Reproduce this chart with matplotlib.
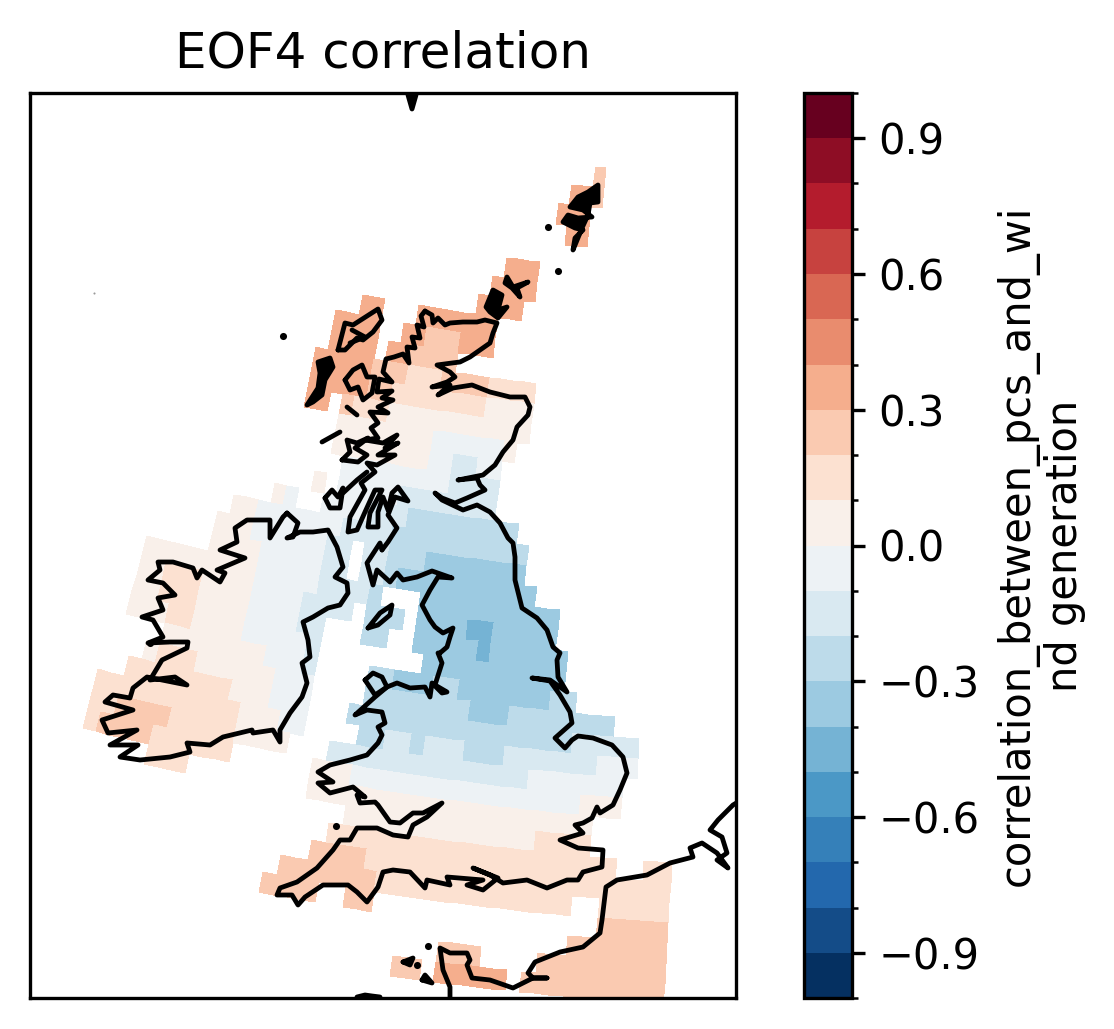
import numpy as np
import matplotlib
matplotlib.use("Agg")
import matplotlib.pyplot as plt
from matplotlib.colors import BoundaryNorm

# correlation classes used on the map
P1, P2, P3, P4 = 0.05, 0.15, 0.25, 0.35
N1, N2, N3, N4, N5 = -0.05, -0.15, -0.25, -0.35, -0.45

levels = np.round(np.arange(-1, 1.01, 0.1), 1)
cbar_ticks = [-0.9, -0.6, -0.3, 0.0, 0.3, 0.6, 0.9]
title = "EOF4 correlation"
cbar_label = "correlation_between_pcs_and_wi\nnd generation"

# one entry per grid row: (first column, last column, value)
cell_runs = [
    [(34, 34, P3)],
    [(32, 33, P4), (34, 34, P3)],
    [(31, 33, P4)],
    [(32, 33, P4)],
    [],
    [(27, 29, P4)],
    [(26, 29, P4)],
    [(25, 28, P4)],
    [(15, 16, P4), (20, 26, P4)],
    [(13, 16, P4), (19, 20, P4), (21, 23, P3), (24, 26, P4)],
    [(13, 16, P4), (18, 19, P4), (20, 23, P3)],
    [(12, 16, P4), (17, 19, P3), (20, 22, P2), (23, 26, P3), (27, 30, P2)],
    [(12, 16, P4), (17, 18, P3), (19, 26, P2), (27, 30, P1)],
    [(12, 13, P4), (15, 15, P3), (16, 18, P2), (19, 30, P1)],
    [(15, 22, P1), (23, 28, N1), (29, 29, P1)],
    [(15, 22, P1), (23, 24, N1), (25, 26, N2), (27, 28, N1)],
    [(16, 24, N1), (25, 28, N2)],
    [(14, 14, P1), (16, 20, N1), (21, 28, N2)],
    [(11, 11, P1), (12, 12, N1), (15, 18, N1), (19, 21, N2), (22, 30, N3)],
    [(8, 9, P1), (10, 16, N1), (17, 20, N2), (21, 31, N3)],
    [(7, 9, P1), (10, 15, N1), (16, 17, N2), (19, 20, N2), (21, 23, N3), (24, 31, N4)],
    [(7, 10, P1), (11, 15, N1), (16, 17, N2), (19, 20, N2), (21, 21, N3), (22, 32, N4)],
    [(2, 10, P1), (11, 15, N1), (16, 19, N2), (20, 20, N3), (24, 34, N4)],
    [(2, 3, P1), (4, 6, P2), (7, 10, P1), (11, 14, N1), (15, 18, N2), (20, 22, N3),
     (24, 27, N4), (28, 29, N5), (30, 34, N4)],
    [(2, 3, P1), (4, 6, P2), (7, 10, P1), (11, 14, N1), (15, 16, N2), (20, 21, N3),
     (24, 28, N4), (29, 29, N5), (30, 35, N4)],
    [(2, 4, P1), (5, 6, P2), (7, 10, P1), (11, 15, N1), (16, 16, N2), (25, 35, N4)],
    [(5, 12, P1), (13, 15, N1), (16, 16, N2), (21, 22, N3), (23, 25, N4), (26, 27, N3),
     (28, 34, N4), (35, 36, N3)],
    [(4, 4, P1), (5, 7, P2), (8, 13, P1), (14, 16, N1), (21, 28, N3), (29, 31, N4), (32, 39, N3)],
    [(3, 10, P2), (11, 13, P1), (14, 16, N1), (20, 36, N3), (37, 41, N2)],
    [(1, 11, P2), (12, 14, P1), (15, 16, N1), (21, 22, N3), (23, 24, N2), (25, 25, N3),
     (26, 28, N2), (29, 31, N3), (32, 38, N2), (39, 41, N1)],
    [(1, 2, P2), (3, 6, P3), (7, 11, P2), (12, 15, P1), (19, 33, N2), (34, 40, N1)],
    [(1, 1, P2), (2, 5, P3), (6, 11, P2), (18, 20, P1), (21, 37, N1), (38, 40, P1)],
    [(6, 8, P2), (18, 38, P1)],
    [(21, 34, P1), (35, 38, P2)],
    [(20, 40, P2), (43, 44, P2)],
    [(19, 22, P3), (23, 44, P2)],
    [(17, 23, P3), (24, 37, P2), (40, 44, P2)],
    [(16, 19, P3), (22, 23, P3), (40, 44, P3)],
    [(38, 44, P3)],
    [(29, 31, P3), (36, 44, P3)],
    [(26, 27, P3), (29, 33, P4), (35, 44, P3)],
]

# coast outlines in map coordinates
britain_east = [(425,311),(432,315),(433,323),(438,318),(445,325),(450,323),(463,322),(477,322),(485,320),(497,323),
    (493,333),(490,343),(480,350),(470,357),(460,362),(452,363),(437,365),(450,372),(455,377),(447,382),(432,387),
    (450,385),(438,395),(453,388),(472,385),(490,392),(510,397),(525,397),(530,407),(528,415),(517,427),(513,440),
    (503,452),(495,465),(483,475),(458,480),(477,478),(480,485),(485,490),(467,498),(455,503),(442,498),(435,493),
    (442,500),(463,510),(477,505),(490,512),(500,523),(508,538),(513,543),(515,557),(515,580),(522,608),(537,618),
    (547,630),(553,647),(560,653),(557,660),(558,677),(567,692),(550,680),(532,678),(550,681),(560,695),(570,712),
    (572,723),(555,738),(565,748),(572,740),(578,736),(593,738),(612,745),(623,757),(627,773),(620,790),(613,805),
    (600,813),(597,807),(592,818),(583,823),(575,825),(583,833),(560,840),(578,848),(603,850),(602,867),(583,872),
    (578,880),(567,880),(547,888),(527,880),(503,883),(490,875),(473,868),(498,878),(483,890),(467,885),(483,880),
    (447,877),(450,885),(427,880),(425,888),(410,872),(393,870),(383,872),(378,887),(367,902),(357,892),(348,885),
    (323,885),(305,897),(298,905),(292,895),(277,895),(280,888),(297,882),(317,868),(333,850),(340,840),(350,840),
    (357,828),(377,828),(393,835),(408,837),(413,825),(427,817),(442,803),(423,813),(413,813),(400,823),(390,822),
    (378,805),(375,802),(360,803),(357,795),(365,797),(353,787),(330,793),(318,783),(333,782),(318,772),(330,765),
    (350,760),(367,755),(378,743),(382,735),(378,727),(385,723),(382,712),(367,710),(355,715),(375,697),(387,687),
    (397,683),(410,688),(425,687),(430,697),(432,683),(442,693),(447,692),(435,685),(442,663),(438,653),(440,653),
    (447,647),(450,637),(453,628),(443,633),(435,627),(430,620),(422,605),(430,590),(438,577),(452,578),(432,571),
    (417,577),(403,580),(397,573),(390,582),(377,570),(373,585),(367,563),(380,543),(382,550)]
# west Scotland, north to south
scotland_west = [(425,311),(421,316),(424,327),(417,325),(420,338),(412,337),(415,348),(407,347),(409,363),(403,354),
    (394,357),(386,359),(383,372),(392,382),(379,379),(377,392),(392,391),(382,398),(393,400),(378,407),(388,413),
    (370,412),(378,423),(371,428),(378,438),(365,440),(383,443),(397,435),(385,448),(398,443),(378,455),(395,455),
    (377,465),(367,463),(375,472),(361,483),(365,490),(350,517),(348,532),(357,530),(365,512),(375,490),(382,490),
    (370,513),(368,527),(378,527),(378,512),(383,497),(388,510),(392,493),(398,487),(408,501),(395,497),(388,515),
    (397,528),(388,542),(382,550)]
ireland = [(287,513),(298,523),(293,537),(287,538),(300,532),(313,532),(328,530),(337,547),(343,567),(335,577),
    (347,583),(348,593),(340,605),(328,608),(313,617),(303,622),(308,640),(310,657),(302,663),(307,683),(302,697),
    (290,713),(280,730),(280,742),(273,730),(253,733),(252,730),(223,737),(210,745),(187,743),(190,752),(170,757),
    (140,760),(120,757),(138,745),(110,745),(137,730),(108,733),(102,720),(133,710),(105,702),(113,695),(130,698),
    (133,688),(147,677),(187,685),(175,677),(150,680),(162,660),(187,648),(188,642),(170,642),(148,643),(163,637),
    (153,620),(142,617),(163,610),(158,598),(175,595),(163,583),(148,580),(160,570),(158,562),(173,562),(193,568),
    (197,578),(202,570),(220,582),(225,573),(217,570),(245,558),(220,550),(237,542),(235,528),(247,520),(270,520),
    (270,538),(283,517),(287,513)]
france = [(450,998),(450,987),(443,970),(440,948),(450,953),(467,953),(470,960),(467,965),(472,978),(490,980),
    (513,988),(533,978),(547,978),(533,978),(528,973),(535,962),(560,952),(583,947),(600,933),(602,920),(606,887),
    (617,880),(647,875),(670,863),(693,857),(690,848),(702,843),(717,853),(728,868),(717,860),(727,853),(722,837),
    (710,830),(718,820),(733,805),(738,802)]
islands = [
    [(368,628),(380,613),(392,605),(390,615),(378,625),(368,628)],
    [(365,680),(373,673),(382,677),(387,687),(375,695),(365,680)],
    [(342,460),(350,452),(347,440),(357,443),(368,438),(355,448),(367,455),(358,462),(342,460)],
    [(325,498),(332,490),(338,497),(343,488),(340,508),(330,508),(325,498)],
    [(343,493),(357,480),(367,472)],
    [(322,442),(340,432)],
    [(345,380),(353,370),(362,365),(367,377),(375,377),(372,393),(363,400),(358,387),(350,390),(345,380)],
    [(347,407),(357,415)],
    [(338,350),(345,323),(353,325),(378,309),(382,320),(373,332),(363,340),(357,338),(345,350),(338,350)],
    [(350,343),(365,337),(352,330)],
    [(403,962),(413,958),(410,965),(403,962)],
    [(422,980),(432,983),(425,975),(422,980)],
    [(357,997),(365,995),(372,996),(380,997)],
]
# islands small enough to close up at this line width
solid_islands = [
    [(318,362),(330,358),(333,367),(325,380),(322,395),(313,402),(307,405),(318,388),(320,373),(318,362)],
    [(486,307),(493,290),(502,295),(498,310),(507,307),(498,318),(490,312),(486,307)],
    [(507,277),(513,287),(528,282),(517,288),(520,297),(512,288),(505,283),(507,277)],
    [(573,250),(575,238),(583,230),(575,228),(563,222),(568,215),(578,218),(592,217),(583,210),(570,207),(578,197),
     (588,192),(598,185),(598,202),(590,203),(588,215),(582,228),(573,250)],
    [(408,95),(412,109),(416,95),(408,95)],
]
dots = [(283,336),(548,227),(558,271),(336,826),(428,946),(417,965),(150,643)]
faint_dot = [(94,293)]

# grid of the regional model on the map (conic, so the rows bend)
apex_x, apex_y = 858, -2222
r0, dr = 2403.5, 20.2
t0, dt = 0.2614, 0.00447
n_cols = 46
n_rows = len(cell_runs)

values = np.full((n_rows, n_cols), np.nan)
for j, runs in enumerate(cell_runs):
    for first, last, v in runs:
        values[j, first:last + 1] = v

radius = r0 + dr * np.arange(n_rows + 1)
theta = t0 - dt * np.arange(n_cols + 1)
R, T = np.meshgrid(radius, theta, indexing="ij")
X = apex_x - R * np.sin(T)
Y = apex_y + R * np.cos(T)

fig = plt.figure(figsize=(1114 / 300, 1029 / 300), dpi=300)
ax = fig.add_axes([30 / 1114, 1 - 998 / 1029, 706 / 1114, 905 / 1029])
cax = fig.add_axes([804 / 1114, 1 - 998 / 1029, 48 / 1114, 905 / 1029])

cmap = plt.get_cmap("RdBu_r", len(levels) - 1)
norm = BoundaryNorm(levels, cmap.N)
mesh = ax.pcolormesh(X, Y, np.ma.masked_invalid(values), cmap=cmap, norm=norm, shading="flat", antialiased=False)

for line in [britain_east, scotland_west, ireland, france] + islands:
    pts = np.array(line)
    ax.plot(pts[:, 0], pts[:, 1], color="black", lw=1.15, solid_joinstyle="round", solid_capstyle="round")
for line in solid_islands:
    pts = np.array(line)
    ax.fill(pts[:, 0], pts[:, 1], facecolor="black", edgecolor="black", lw=1.15, joinstyle="round")
pts = np.array(dots)
ax.plot(pts[:, 0], pts[:, 1], "o", color="black", ms=1.7, mew=0)
pts = np.array(faint_dot)
ax.plot(pts[:, 0], pts[:, 1], "o", color="0.6", ms=0.5, mew=0)

ax.set_xlim(30, 736)
ax.set_ylim(998, 93)
ax.set_xticks([])
ax.set_yticks([])
ax.set_title(title)

cb = fig.colorbar(mesh, cax=cax, ticks=cbar_ticks, spacing="proportional")
cb.ax.yaxis.set_ticks(levels, minor=True)
cb.ax.set_yticklabels(["\u2212" + str(abs(t)) if t < 0 else str(t) for t in cbar_ticks])
cb.ax.tick_params(which="major", length=3, pad=3.3)
cb.ax.tick_params(which="minor", length=1.5)
cb.set_label(cbar_label, linespacing=1.15)

fig.savefig("out.png", dpi=300)
